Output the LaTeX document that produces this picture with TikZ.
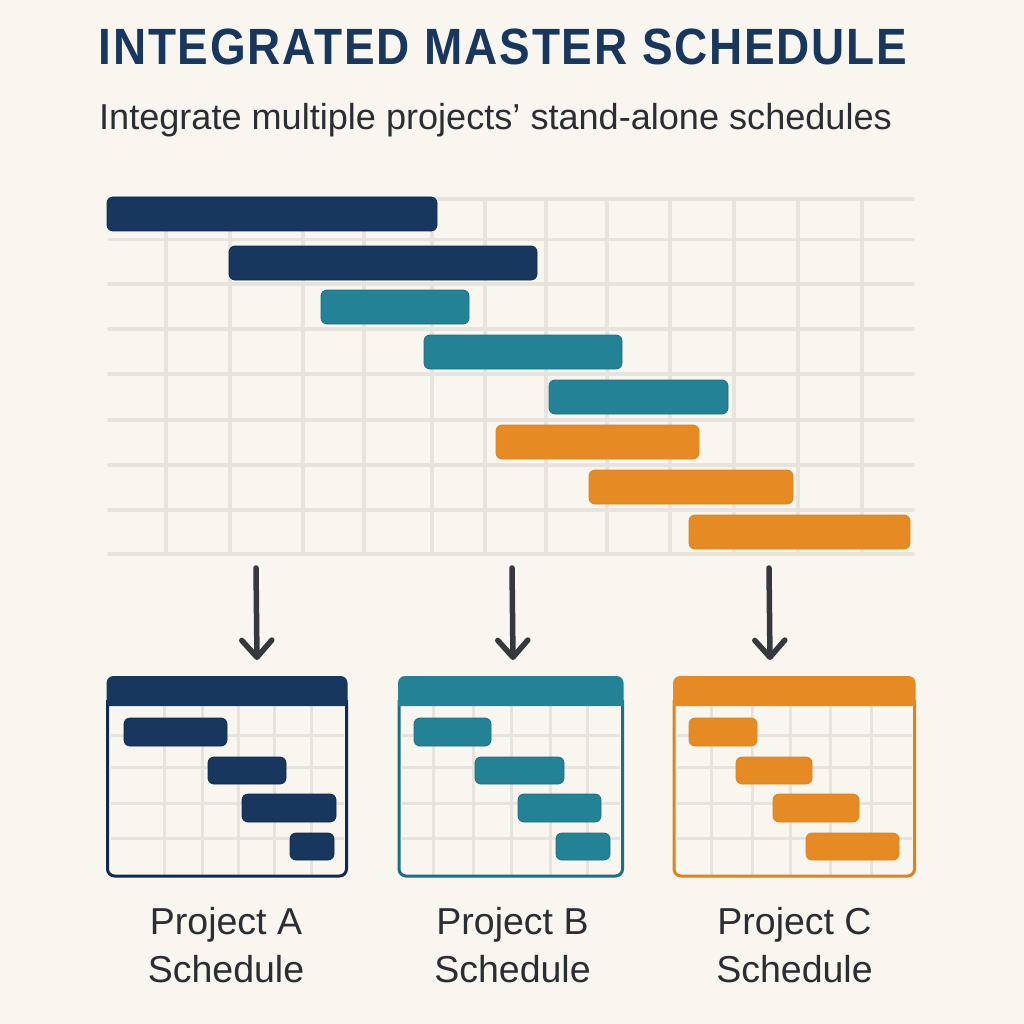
\documentclass[tikz,border=0pt]{standalone}
\usepackage{fontspec}
\setmainfont{Liberation Sans}
\newfontfamily\titlefont[FakeStretch=0.9,LetterSpace=3.6]{Liberation Sans}
\usetikzlibrary{arrows.meta}
\definecolor{bgc}{HTML}{F9F6F0}
\definecolor{navy}{HTML}{17375E}
\definecolor{navyedge}{HTML}{0F2A52}
\definecolor{teal}{HTML}{248296}
\definecolor{tealedge}{HTML}{1A7083}
\definecolor{orng}{HTML}{E68A23}
\definecolor{orngedge}{HTML}{DC8420}
\definecolor{gridc}{HTML}{E7E4DE}
\definecolor{arrowc}{HTML}{35393F}
\definecolor{textc}{HTML}{2A2D33}
\newcommand{\gbar}[7][2]{%
  \pgfmathsetmacro{\gw}{#5-#3}\pgfmathsetmacro{\gh}{#6-#4}%
  \pgfmathsetmacro{\gx}{(#5+#3)/2}\pgfmathsetmacro{\gy}{(#6+#4)/2}%
  \node[barbox,fill=#7,draw=#7edge,minimum width=\gw pt,minimum height=\gh pt] (#2) at (\gx,\gy) {};}
\newcommand{\card}[4]{% left, right, colour, grid verticals
  \foreach \v in {#4} \draw[smallgrid] (\v,706) -- (\v,875);
  \foreach \h in {735,767,803,838} \draw[smallgrid] (#1+3,\h) -- (#2-3,\h);
  \draw[#3edge,line width=3pt,rounded corners=7pt] (#1,700) -- (#1,876) -- (#2,876) -- (#2,700);
  \fill[#3] (#1-1,706) {[rounded corners=7pt] -- (#1-1,676) -- (#2+1,676)} -- (#2+1,706) -- cycle;
}
\tikzset{
  x=1pt,y=-1pt,
  barbox/.style={rectangle,rounded corners=6pt,line width=0.8pt,inner sep=0pt,outer sep=0pt},
  biggrid/.style={gridc,line width=3.6pt},
  smallgrid/.style={gridc,line width=3pt},
  flowarrow/.style={arrowc,line width=5.5pt,line cap=round,-{Straight Barb[length=17pt,width=30pt,line width=5.5pt,round]}},
  lab/.style={textc,font=\fontsize{37.5}{48}\selectfont,align=center,inner sep=0pt,anchor=center},
}
\begin{document}
\begin{tikzpicture}
\useasboundingbox (0,0) rectangle (1024,1024);
\fill[bgc] (0,0) rectangle (1024,1024);
\node[navy,inner sep=0pt,anchor=base,font={\titlefont\bfseries\fontsize{51}{60}\selectfont}] (title) at (503,65) {INTEGRATED MASTER SCHEDULE};
\node[textc,inner sep=0pt,anchor=base,font=\fontsize{36.1}{44}\selectfont] (subtitle) at (495.5,130) {Integrate multiple projects’ stand-alone schedules};
% main grid
\foreach \h in {199,239.5,284,329,374,420,465,510,554} \draw[biggrid,line cap=round] (109,\h) -- (913,\h);
\foreach \v in {166,230,303,364,432,485,546,607,670,734,798,862} \draw[biggrid] (\v,199) -- (\v,554);
% main bars
\gbar{m1}{107}{197}{437}{231}{navy}
\gbar{m2}{229}{246}{537}{280}{navy}
\gbar{m3}{321}{290}{469}{324}{teal}
\gbar{m4}{424}{335}{622}{369}{teal}
\gbar{m5}{549}{380}{728}{414}{teal}
\gbar{m6}{496}{425}{699}{459}{orng}
\gbar{m7}{589}{470}{793}{504}{orng}
\gbar{m8}{689}{515}{910}{549}{orng}
% arrows
\coordinate (a1s) at (256,568); \coordinate (a1e) at (257,660);
\coordinate (a2s) at (512,568); \coordinate (a2e) at (513,660);
\coordinate (a3s) at (769,568); \coordinate (a3e) at (770,660);
\draw[flowarrow] (a1s) -- (a1e);
\draw[flowarrow] (a2s) -- (a2e);
\draw[flowarrow] (a3s) -- (a3e);
% cards
\card{107.5}{346.5}{navy}{164,202,238,274,311}
\gbar{a1}{124}{718}{227}{746}{navy}
\gbar{a2}{208}{757}{286}{784}{navy}
\gbar{a3}{242}{794}{336}{822}{navy}
\gbar{a4}{290}{833}{334}{860}{navy}
\card{399}{622.5}{teal}{433,473,511,550,587}
\gbar{b1}{414}{718}{491}{746}{teal}
\gbar{b2}{475}{757}{564}{784}{teal}
\gbar{b3}{518}{794}{601}{822}{teal}
\gbar{b4}{556}{833}{610}{860}{teal}
\card{674}{914.5}{orng}{711,752,790,830,871}
\gbar{c1}{689}{718}{757}{746}{orng}
\gbar{c2}{736}{757}{812}{784}{orng}
\gbar{c3}{773}{794}{859}{822}{orng}
\gbar{c4}{806}{833}{899}{860}{orng}
% labels
\node[lab] (la) at (226,945) {Project A\\Schedule};
\node[lab] (lb) at (512.5,945) {Project B\\Schedule};
\node[lab] (lc) at (794.5,945) {Project C\\Schedule};
\end{tikzpicture}
\end{document}
